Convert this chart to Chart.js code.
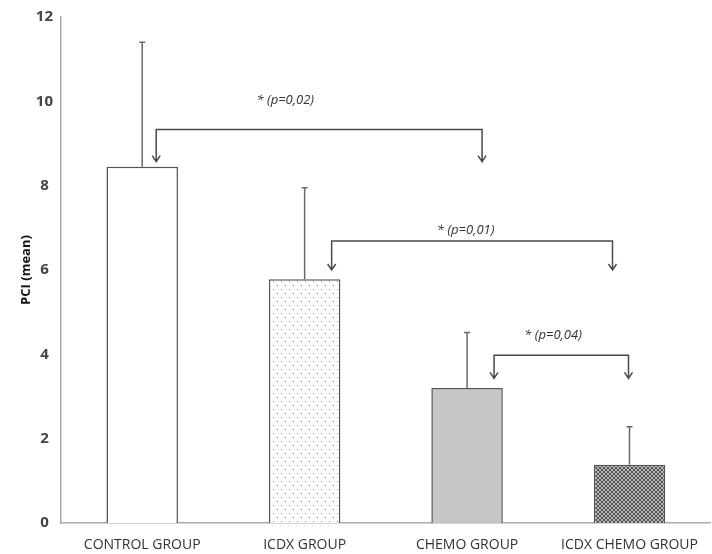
<!DOCTYPE html>
<html>
<head>
<meta charset="utf-8">
<script src="https://cdn.jsdelivr.net/npm/chart.js@4.4.1/dist/chart.umd.min.js"></script>
<style>
  html, body { margin: 0; padding: 0; background: #fff; }
  #wrap { position: relative; width: 712px; height: 554px; }
</style>
</head>
<body>
<div id="wrap"><canvas id="pciChart"></canvas></div>
<script>
// data
const groups = ['CONTROL GROUP', 'ICDX GROUP', 'CHEMO GROUP', 'ICDX CHEMO GROUP'];
const pciMean = [8.45, 5.78, 3.2, 1.38];
const pciUpper = [11.4, 7.95, 4.52, 2.28];   // top of error bars
const yTickValues = [0, 2, 4, 6, 8, 10, 12];

// significance comparisons
const compFrom = [0, 1, 2];
const compTo = [2, 3, 3];
const compText = ['* (p=0,02)', '* (p=0,01)', '* (p=0,04)'];
const compLevel = [9.33, 6.69, 3.98];   // bracket height (PCI units)
const compTip = [8.57, 6.0, 3.43];      // arrow tips
const compTextY = [10.02, 6.95, 4.45];

// ---- fill patterns ----
function makePattern(size, draw) {
    const c = document.createElement('canvas');
    c.width = size; c.height = size;
    const g = c.getContext('2d');
    draw(g, size);
    return g.createPattern(c, 'repeat');
}

const dotFill = makePattern(8, (g, s) => {
    g.fillStyle = '#fff';
    g.fillRect(0, 0, s, s);
    g.fillStyle = '#8a8a8a';
    g.fillRect(1, 1, 1, 1);
    g.fillRect(5, 5, 1, 1);
});

// dense cross hatch
const hatchFill = makePattern(4, (g, s) => {
    g.fillStyle = '#b4b4b4';
    g.fillRect(0, 0, s, s);
    g.fillStyle = '#555';
    for (let i = 0; i < s; i++) {
        g.fillRect(i, i, 1, 1);
        g.fillRect(s - 1 - i, i, 1, 1);
    }
});

// ---- error bars (upper only) ----
const errorBars = {
    id: 'errorBars',
    afterDatasetsDraw(chart) {
        const { ctx, scales: { y } } = chart;
        const meta = chart.getDatasetMeta(0);
        ctx.save();
        ctx.strokeStyle = '#6a6a6a';
        ctx.lineWidth = 1.5;
        meta.data.forEach((bar, i) => {
            const top = y.getPixelForValue(pciUpper[i]);
            ctx.beginPath();
            ctx.moveTo(bar.x, bar.y);
            ctx.lineTo(bar.x, top);
            ctx.moveTo(bar.x - 3, top);
            ctx.lineTo(bar.x + 3, top);
            ctx.stroke();
        });
        ctx.restore();
    }
};

// ---- significance brackets ----
const brackets = {
    id: 'brackets',
    afterDraw(chart, args, opts) {
        const { ctx, scales: { x, y } } = chart;
        ctx.save();
        ctx.strokeStyle = '#4a4a4a';
        ctx.lineWidth = 1.5;
        ctx.fillStyle = '#333';
        ctx.font = 'italic 13px "Open Sans", sans-serif';
        ctx.textAlign = 'center';
        ctx.textBaseline = 'middle';
        compText.forEach((txt, i) => {
            const x1 = x.getPixelForValue(compFrom[i]) + opts.leftShift[i];
            const x2 = x.getPixelForValue(compTo[i]) + opts.rightShift[i];
            const yl = y.getPixelForValue(compLevel[i]);
            const yt = y.getPixelForValue(compTip[i]);
            ctx.beginPath();
            ctx.moveTo(x1, yt);
            ctx.lineTo(x1, yl);
            ctx.lineTo(x2, yl);
            ctx.lineTo(x2, yt);
            [x1, x2].forEach(px => {
                ctx.moveTo(px - 4, yt - 6);
                ctx.lineTo(px, yt);
                ctx.lineTo(px + 4, yt - 6);
            });
            ctx.stroke();
            const tx = x.getPixelForValue(compFrom[i]) + opts.textShift[i];
            ctx.fillText(txt, tx, y.getPixelForValue(compTextY[i]));
        });
        ctx.restore();
    }
};

new Chart(document.getElementById('pciChart'), {
    type: 'bar',
    data: {
        labels: groups,
        datasets: [{
            data: pciMean,
            backgroundColor: ['#ffffff', dotFill, '#c6c6c6', hatchFill],
            borderColor: '#555',
            borderWidth: 1.5,
            borderSkipped: 'bottom',
            barPercentage: 0.44,
            categoryPercentage: 1
        }]
    },
    options: {
        responsive: true,
        maintainAspectRatio: false,
        animation: false,
        layout: { padding: { top: 15, right: 0, left: 0, bottom: 0 } },
        plugins: {
            legend: { display: false },
            tooltip: { enabled: false },
            brackets: {
                leftShift: [14, 27, 27],
                rightShift: [15, -17, -1],
                textShift: [143, 161, 86]
            }
        },
        scales: {
            x: {
                offset: true,
                grid: { display: false, drawTicks: false },
                border: { color: '#aaa', width: 1.5 },
                ticks: {
                    color: '#333',
                    font: { family: '"Open Sans", sans-serif', size: 14 },
                    padding: 14,
                    maxRotation: 0
                },
                afterFit: s => { s.height = 31; }
            },
            y: {
                min: 0,
                max: 12,
                grid: { display: false, drawTicks: false },
                border: { color: '#aaa', width: 1.5 },
                afterBuildTicks: s => { s.ticks = yTickValues.map(v => ({ value: v })); },
                ticks: {
                    color: '#444',
                    font: { family: '"Open Sans", sans-serif', size: 15, weight: 'bold' },
                    padding: 8,
                    crossAlign: 'center'
                },
                title: {
                    display: true,
                    text: 'PCI (mean)',
                    color: '#111',
                    font: { family: '"Open Sans", sans-serif', size: 13, weight: 'bold' },
                    padding: { top: 18, bottom: 0 }
                },
                afterFit: s => { s.width = 61; }
            }
        }
    },
    plugins: [errorBars, brackets]
});
</script>
</body>
</html>
